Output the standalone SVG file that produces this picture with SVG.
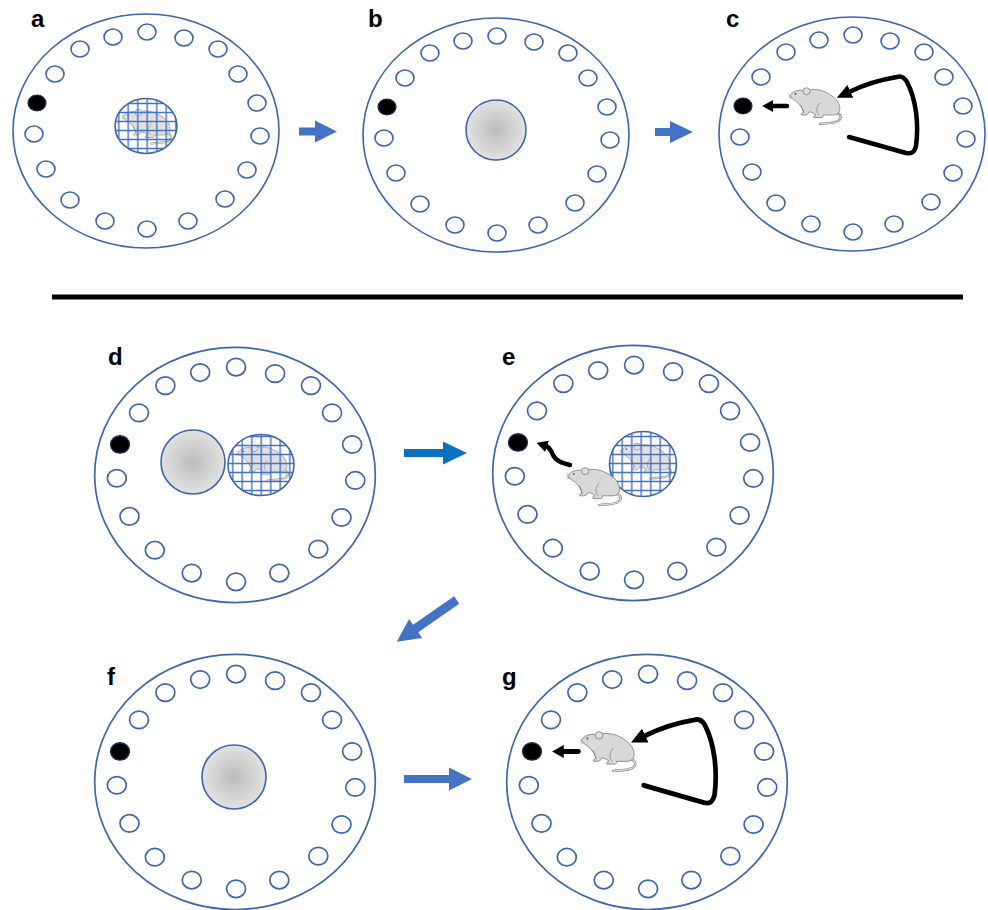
<svg xmlns="http://www.w3.org/2000/svg" xmlns:xlink="http://www.w3.org/1999/xlink" width="988" height="910" viewBox="0 0 988 910">
  <style>
    .rim{fill:#fff;stroke:#3f65ad;stroke-width:1.6}
    .hole{fill:#fff;stroke:#3f65ad;stroke-width:1.6}
    .goal{fill:#000;stroke:#1c2f57;stroke-width:1.2}
    .lbl{font-family:"Liberation Sans",Arial,sans-serif;font-weight:bold;font-size:24px;fill:#000}
    .plat{fill:url(#platGrad);stroke:#3f65ad;stroke-width:1.6}
    .cage-bg{fill:#fff}
    .cage-mesh{fill:url(#mesh);stroke:#3f65ad;stroke-width:1.6}
    .trail{fill:none;stroke:#000;stroke-width:4.5;stroke-linecap:round;stroke-linejoin:round}
    .flow{fill:#4472c4}
    .flow-alt{fill:#0a70c0}
    .caged{opacity:0.8}
  </style>
  <defs>
    <radialGradient id="platGrad" cx="0.5" cy="0.5" r="0.5">
      <stop offset="0" stop-color="#bcbcbc"/>
      <stop offset="1" stop-color="#e2e2e2"/>
    </radialGradient>
    <pattern id="mesh" width="9.5" height="9" patternUnits="userSpaceOnUse">
      <rect width="9.5" height="9" fill="none"/>
      <path d="M0,4.5H9.5M4.75,0V9" stroke="#4472c4" stroke-width="1.4"/>
    </pattern>
    <marker id="headBig" markerUnits="userSpaceOnUse" markerWidth="15" markerHeight="14" viewBox="0 0 10 10" refX="1" refY="5" orient="auto" preserveAspectRatio="none">
      <path d="M0,0L10,5L0,10z" fill="#000"/>
    </marker>
    <marker id="headSmall" markerUnits="userSpaceOnUse" markerWidth="11" markerHeight="12" viewBox="0 0 10 10" refX="1" refY="5" orient="auto" preserveAspectRatio="none">
      <path d="M0,0L10,5L0,10z" fill="#000"/>
    </marker>

    <!-- rat, facing left, hunched -->
    <symbol id="rat" viewBox="-1 -1 56 38">
      <path d="M46,24 C52,26 54,30 49,33 C45,35.5 38,35 31,36" fill="none" stroke="#8a8a8a" stroke-width="2.4" stroke-linecap="round"/>
      <path d="M46,24 C52,26 54,30 49,33 C45,35.5 38,35 31,36" fill="none" stroke="#e4e4e4" stroke-width="1" stroke-linecap="round"/>
      <path d="M1,7.5 C2.5,5 5.5,3 9,2.5 C12,1.8 14,2.2 16,3 C21,1 29,1 35,3.5 C43,7 49,12 50.5,18 C52,23 49,27 44,27 L34,27 C35,29 33,30 30,29.5 L25,29.5 C24,28.5 25,27.5 27,27 C25,25 22,23.5 20,24 C19,26 18,27 16,27 L12.5,27 C11.5,26 12.5,25 14.5,24.5 C14,21 11,17 8,14 C5.5,12 3,10.5 1,9 Z" fill="#d9d9d9" stroke="#7f7f7f" stroke-width="0.8" stroke-linejoin="round"/>
      <ellipse cx="17.5" cy="3.2" rx="3.6" ry="3.4" fill="#dedede" stroke="#7f7f7f" stroke-width="0.8"/>
      <path d="M31,15 C27,19 27,24 30,27 M12,17 C13,20 14,22 15,24.5" fill="none" stroke="#7f7f7f" stroke-width="0.7"/>
      <circle cx="6.5" cy="6" r="0.9" fill="#444"/>
      <path d="M2,8 L-1,6 M2,8.5 L-1,9.5 M3,9 L0,11.5" stroke="#888" stroke-width="0.4"/>
    </symbol>

    <!-- maze table: rim and 18 holes, centred on 0,0 -->
    <g id="ring">
      <ellipse class="rim" rx="133" ry="117"/>
      <ellipse class="hole" cx="1" cy="-99" rx="9" ry="8"/>
      <ellipse class="hole" cx="38" cy="-93" rx="9" ry="8"/>
      <ellipse class="hole" cx="72" cy="-82" rx="9" ry="8"/>
      <ellipse class="hole" cx="92" cy="-57" rx="9" ry="8"/>
      <ellipse class="hole" cx="111" cy="-28" rx="9" ry="8"/>
      <ellipse class="hole" cx="114" cy="5" rx="9" ry="8"/>
      <ellipse class="hole" cx="101" cy="39" rx="9" ry="8"/>
      <ellipse class="hole" cx="79" cy="68" rx="9" ry="8"/>
      <ellipse class="hole" cx="42" cy="90" rx="9" ry="8"/>
      <ellipse class="hole" cx="1" cy="98" rx="9" ry="8"/>
      <ellipse class="hole" cx="-41" cy="90" rx="9" ry="8"/>
      <ellipse class="hole" cx="-76" cy="69" rx="9" ry="8"/>
      <ellipse class="hole" cx="-100" cy="38" rx="9" ry="8"/>
      <ellipse class="hole" cx="-112" cy="3" rx="9" ry="8"/>
      <ellipse class="goal" cx="-109" cy="-28" rx="9" ry="8"/>
      <ellipse class="hole" cx="-91" cy="-57" rx="9" ry="8"/>
      <ellipse class="hole" cx="-66" cy="-82" rx="9" ry="8"/>
      <ellipse class="hole" cx="-33" cy="-94" rx="9" ry="8"/>
    </g>

    <!-- rat heading to the escape hole, with its search trail -->
    <g id="recall">
      <use href="#rat" x="-64" y="-47" width="56" height="38"/>
      <path class="trail" d="M-65,-28 L-80,-28" stroke-width="4" marker-end="url(#headSmall)"/>
      <path class="trail" d="M-3,3 L54,19 Q62,21 64,12 C67,-10 64,-35 55,-52 Q51,-59 45,-57 Q20,-53 -3,-42" marker-end="url(#headBig)"/>
    </g>
  </defs>

  <rect width="988" height="910" fill="#fff"/>

  <g id="panel-a">
    <text class="lbl" x="31" y="27">a</text>
    <use href="#ring" transform="translate(146,131)"/>
    <ellipse class="cage-bg" cx="146" cy="126" rx="31" ry="27.5"/>
    <use class="caged" href="#rat" x="121" y="108" width="53" height="37"/>
    <ellipse class="cage-mesh" cx="146" cy="126" rx="31" ry="27.5"/>
  </g>

  <g id="panel-b">
    <text class="lbl" x="368" y="27">b</text>
    <use href="#ring" transform="translate(496,135)"/>
    <circle class="plat" cx="496" cy="130" r="30"/>
  </g>

  <g id="panel-c">
    <text class="lbl" x="726" y="27">c</text>
    <use href="#ring" transform="translate(852,134)"/>
    <use href="#recall" transform="translate(852,134)"/>
  </g>

  <line x1="52" y1="297" x2="963" y2="297" stroke="#000" stroke-width="5"/>

  <g id="panel-d">
    <text class="lbl" x="108" y="365">d</text>
    <use href="#ring" transform="translate(235,475) scale(1.055,1.09)"/>
    <circle class="plat" cx="193" cy="462" r="32"/>
    <ellipse class="cage-bg" cx="261" cy="465" rx="33" ry="30.5"/>
    <use class="caged" href="#rat" x="236" y="443" width="55" height="40"/>
    <ellipse class="cage-mesh" cx="261" cy="465" rx="33" ry="30.5"/>
  </g>

  <g id="panel-e">
    <text class="lbl" x="502" y="365">e</text>
    <use href="#ring" transform="translate(633,473) scale(1.055,1.09)"/>
    <ellipse class="cage-bg" cx="643" cy="464" rx="33.5" ry="32.5"/>
    <use class="caged" href="#rat" x="619" y="441" width="55" height="40"/>
    <ellipse class="cage-mesh" cx="643" cy="464" rx="33.5" ry="32.5"/>
    <use href="#rat" x="566" y="466" width="58" height="41"/>
    <path class="trail" d="M570,465 C562,463 556,461 553,455 C551,450 549,447 546,446" stroke-width="4" marker-end="url(#headSmall)"/>
  </g>

  <g id="panel-f">
    <text class="lbl" x="107" y="685">f</text>
    <use href="#ring" transform="translate(235,782) scale(1.055,1.09)"/>
    <circle class="plat" cx="234" cy="777" r="32"/>
  </g>

  <g id="panel-g">
    <text class="lbl" x="502" y="685">g</text>
    <use href="#ring" transform="translate(647,782) scale(1.055,1.09)"/>
    <use href="#recall" transform="translate(647,782) scale(1.055,1.09)"/>
  </g>

  <g id="connectors">
    <polygon class="flow" points="299,127.5 315,127.5 315,120.5 337,131.5 315,142.5 315,135.5 299,135.5"/>
    <polygon class="flow" points="655,128 670,128 670,121 693,132 670,143 670,136 655,136"/>
    <polygon class="flow-alt" points="404,449 443,449 443,441.5 467,453 443,464.5 443,457 404,457"/>
    <polygon class="flow" transform="translate(456.7,600) rotate(145.2)" points="0,-4.5 50,-4.5 50,-11.5 73,0 50,11.5 50,4.5 0,4.5"/>
    <polygon class="flow" points="404,775 449,775 449,767.5 472,779 449,790.5 449,783 404,783"/>
  </g>
</svg>
